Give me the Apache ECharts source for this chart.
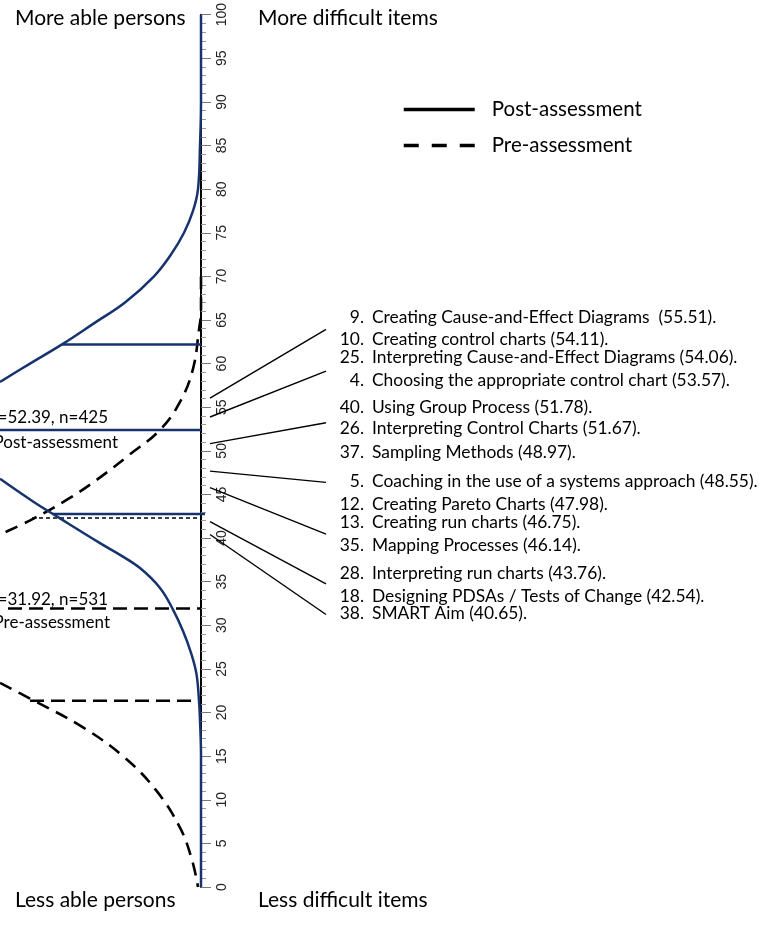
<!DOCTYPE html>
<html>
<head>
<meta charset="utf-8">
<script src="https://cdn.jsdelivr.net/npm/echarts@6/dist/echarts.min.js"></script>
<style>
  html, body { margin: 0; padding: 0; background: #fff; }
  #chart { width: 760px; height: 941px; }
</style>
</head>
<body>
<div id="chart"></div>
<script>
// Curves: [offset left of the axis, measure]
const postUpperCurve = [[0, 100], [0, 90], [-1, 85], [-3, 80], [-8, 77.5], [-17, 75], [-30, 72.5], [-47, 70], [-76, 67], [-106, 64.7], [-139, 62.2], [-171, 60], [-201, 57.9]];
const postLowerCurve = [[-201, 46.8], [-168, 44.2], [-143, 42.4], [-101, 39.42], [-81, 38.08], [-61, 36.56], [-41, 34.28], [-28, 31.8], [-18, 29.34], [-9.5, 26.68], [-4.5, 24.4], [-2, 21.35], [-1, 19.1], [0, 15], [0, 0]];
const preUpperCurve = [[0, 70], [0, 66], [-2, 63.9], [-8, 59.4], [-21, 55.6], [-41, 52.4], [-71, 49.6], [-104, 46.7], [-134, 44.4], [-168, 42.2], [-201, 40.4]];
const preLowerCurve = [[-201, 23.4], [-171, 21.6], [-118, 18.3], [-76, 14.8], [-45, 11.1], [-21, 6.8], [-9, 3.1], [-3, 0]];

// Reference lines: [from, to, measure]
const postLines = [[-139, 0, 62.2], [-201, 0, 52.39], [-148, 4, 42.76]];
const preLines = [[-193, 0, 31.92], [-171, 0, 21.35]];
const preSdHighLine = [-169, 0, 42.3];

// Items
const itemIds = ['9.', '10.', '25.', '4.', '40.', '26.', '37.', '5.', '12.', '13.', '35.', '28.', '18.', '38.'];
const itemNames = [
  'Creating Cause-and-Effect Diagrams  (55.51).',
  'Creating control charts (54.11).',
  'Interpreting Cause-and-Effect Diagrams (54.06).',
  'Choosing the appropriate control chart (53.57).',
  'Using Group Process (51.78).',
  'Interpreting Control Charts (51.67).',
  'Sampling Methods (48.97).',
  'Coaching in the use of a systems approach (48.55).',
  'Creating Pareto Charts (47.98).',
  'Creating run charts (46.75).',
  'Mapping Processes (46.14).',
  'Interpreting run charts (43.76).',
  'Designing PDSAs / Tests of Change (42.54).',
  'SMART Aim (40.65).'
];
// leader lines: [measure at the axis, measure at the label side]
const leaders = [[56.05, 63.93], [53.88, 59.13], [50.83, 53.22], [47.68, 46.38], [45.78, 40.45], [41.89, 34.74], [40.41, 31.24]];

const postText = ['Mean=52.39, n=425', 'Post-assessment'];
const preText = ['Mean=31.92, n=531', 'Pre-assessment'];

// layout
const labelRows = [317, 339, 357, 380, 407, 428, 452, 481, 504, 522, 545, 573, 596, 613];
const NAVY = '#17336f';
const FONT = 'Lato';

const chart = echarts.init(document.getElementById('chart'));

const series = [];
series.push({
  name: 'Post-assessment', type: 'line', data: postUpperCurve, symbol: 'none', smooth: 0.4,
  lineStyle: { color: NAVY, width: 2.5 }, itemStyle: { color: NAVY }, z: 4
});
series.push({
  name: 'Post-assessment', type: 'line', data: postLowerCurve, symbol: 'none', smooth: 0.4,
  lineStyle: { color: NAVY, width: 2.5 }, itemStyle: { color: NAVY }, z: 4
});
postLines.forEach(l => series.push({
  name: 'Post-assessment', type: 'line', data: [[l[0], l[2]], [l[1], l[2]]], symbol: 'none',
  lineStyle: { color: NAVY, width: 2.5 }, itemStyle: { color: NAVY }, z: 4
}));
series.push({
  name: 'Pre-assessment', type: 'line', data: preUpperCurve, symbol: 'none', smooth: 0.4,
  lineStyle: { color: '#000', width: 2.6, type: [13, 8] }, itemStyle: { color: '#000' }, z: 3
});
series.push({
  name: 'Pre-assessment', type: 'line', data: preLowerCurve, symbol: 'none', smooth: 0.4,
  lineStyle: { color: '#000', width: 2.6, type: [13, 8] }, itemStyle: { color: '#000' }, z: 3
});
preLines.forEach(l => series.push({
  name: 'Pre-assessment', type: 'line', data: [[l[0], l[2]], [l[1], l[2]]], symbol: 'none',
  lineStyle: { color: '#000', width: 2.6, type: [14, 7] }, itemStyle: { color: '#000' }, z: 3
}));
series.push({
  name: 'Pre-assessment', type: 'line', data: [[preSdHighLine[0], preSdHighLine[2]], [preSdHighLine[1], preSdHighLine[2]]],
  symbol: 'none', lineStyle: { color: '#000', width: 1.3, type: [4, 3] }, z: 3
});
leaders.forEach(l => series.push({
  type: 'line', data: [[9, l[0]], [125, l[1]]], symbol: 'none', silent: true,
  lineStyle: { color: '#000', width: 1.4 }, z: 2
}));

const graphics = [];
const addText = (x, y, text, size, align) => graphics.push({
  type: 'text', x: x, y: y,
  style: { text: text, font: size + 'px ' + FONT, fill: '#000', textAlign: align || 'left', textVerticalAlign: 'middle' }
});
addText(15, 18, 'More able persons', 21);
addText(258, 18, 'More difficult items', 21);
addText(15, 900, 'Less able persons', 21);
addText(258, 900, 'Less difficult items', 21);
addText(108, 418, postText[0], 17, 'right');
addText(118, 443, postText[1], 17, 'right');
addText(108, 600, preText[0], 17, 'right');
addText(110, 623, preText[1], 17, 'right');
itemIds.forEach((id, i) => {
  addText(364, labelRows[i], id, 17.4, 'right');
  addText(372, labelRows[i], itemNames[i], 17.4);
});

const option = {
  animation: false,
  grid: { left: 0, right: 0, top: 11, bottom: 54, containLabel: false },
  xAxis: { type: 'value', min: -201, max: 559, show: false },
  yAxis: {
    type: 'value', min: 0, max: 100, interval: 5,
    position: 'left', offset: -201,
    axisLine: { show: true, onZero: false, lineStyle: { color: '#000', width: 2 } },
    axisTick: { show: true, inside: true, length: 10, lineStyle: { color: '#777', width: 1 } },
    minorTick: { show: true, splitNumber: 5, length: 5, lineStyle: { color: '#999', width: 1 } },
    axisLabel: { inside: true, rotate: 90, margin: 14, fontFamily: 'Liberation Sans', fontSize: 14, color: '#222' },
    splitLine: { show: false }
  },
  legend: {
    orient: 'vertical', left: 397, top: 94,
    itemWidth: 71, itemHeight: 4, itemGap: 15,
    selectedMode: false,
    textStyle: { fontFamily: FONT, fontSize: 20.5, color: '#000', padding: [0, 0, 0, 12], lineHeight: 20 },
    data: [
      { name: 'Post-assessment', lineStyle: { color: '#000', width: 3.5 }, itemStyle: { color: '#000' } },
      { name: 'Pre-assessment', lineStyle: { color: '#000', width: 3.5, type: [15, 13] }, itemStyle: { color: '#000' } }
    ]
  },
  graphic: graphics,
  series: series
};

chart.setOption(option);
</script>
</body>
</html>
